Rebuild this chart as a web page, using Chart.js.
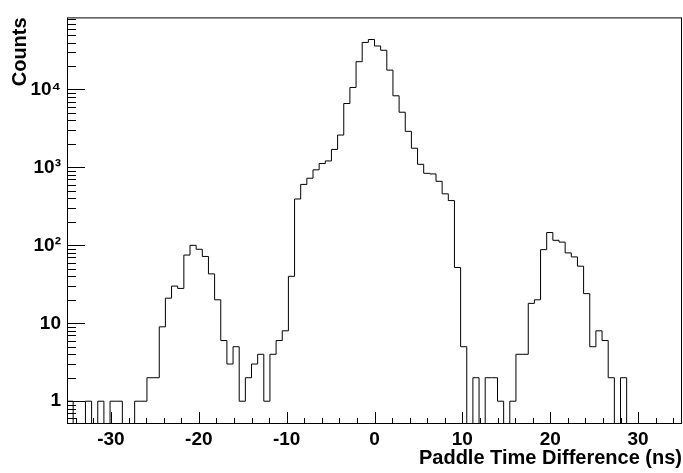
<!DOCTYPE html>
<html>
<head>
<meta charset="utf-8">
<script src="https://cdn.jsdelivr.net/npm/chart.js@4.4.0/dist/chart.umd.min.js"></script>
<style>
body { margin: 0; background: #fff; }
</style>
</head>
<body>
<canvas id="histo" width="683" height="473"></canvas>
<script>
// 100 bins of 0.7 ns from -35 to 35 ns
var xMin = -35;
var xMax = 35;
var binWidth = 0.7;
var counts = [
  1, 0, 0, 1, 0, 1, 0, 1, 1, 0,
  0, 1, 1, 2, 2, 9, 21, 30, 28, 75,
  100, 89, 72, 43, 20, 6, 3, 5, 1, 2,
  3, 4, 1, 4, 6, 8, 40, 393, 605, 726,
  930, 1120, 1210, 1700, 2600, 6600, 10600, 22700, 40100, 43700,
  36100, 31800, 17700, 8290, 5100, 2900, 1760, 1095, 839, 824,
  663, 458, 375, 52, 5, 0, 2, 0, 2, 2,
  1, 0, 1, 4, 4, 18, 20, 88, 146, 116,
  110, 80, 71, 54, 24, 5, 8, 6, 2, 0,
  2, 0, 0, 0, 0, 0, 0, 0, 0, 0
];

var yMin = 0.51;
var yMax = 84000;
var xTicks = [-30, -20, -10, 0, 10, 20, 30];
var yTicks = [1, 10, 100, 1000, 10000];
var yTickLabels = ['1', '10', '10\u00b2', '10\u00b3', '10\u2074'];

var labelFont = { family: 'Liberation Sans', size: 19, weight: 'bold' };
var titleFont = { family: 'Liberation Sans', size: 20, weight: 'bold' };

// step points at bin low edges, empty bins sit on the frame bottom
var points = [];
for (var i = 0; i < counts.length; i++) {
  points.push({ x: xMin + i * binWidth, y: Math.max(counts[i], yMin) });
}
points.push({ x: xMax, y: Math.max(counts[counts.length - 1], yMin) });

// ROOT style frame with ticks pointing inwards
var rootFrame = {
  id: 'rootFrame',
  afterDatasetsDraw: function(chart) {
    var ctx = chart.ctx;
    var a = chart.chartArea;
    var xs = chart.scales.x;
    var ys = chart.scales.y;
    ctx.save();
    ctx.strokeStyle = '#000';
    ctx.lineWidth = 1;
    ctx.beginPath();
    for (var d = -1; d <= 4; d++) {
      for (var m = 1; m <= 9; m++) {
        var v = m * Math.pow(10, d);
        if (v < yMin || v > yMax) continue;
        var py = Math.round(ys.getPixelForValue(v)) + 0.5;
        var len = m === 1 ? 18 : 9;
        ctx.moveTo(a.left, py);
        ctx.lineTo(a.left + len, py);
      }
    }
    for (var t = -34; t <= 34; t += 2) {
      var px = Math.round(xs.getPixelForValue(t)) + 0.5;
      var tl = t % 10 === 0 ? 12 : 6;
      ctx.moveTo(px, a.bottom);
      ctx.lineTo(px, a.bottom - tl);
    }
    ctx.stroke();
    ctx.strokeRect(a.left + 0.5, a.top + 0.5, a.right - a.left - 1, a.bottom - a.top - 1);
    ctx.restore();
  }
};

var ctx = document.getElementById('histo');
var chart = new Chart(ctx, {
  type: 'line',
  data: {
    datasets: [{
      label: 'Paddle time difference',
      data: points,
      stepped: 'before',
      borderColor: '#000',
      borderWidth: 1,
      pointRadius: 0,
      fill: false,
      tension: 0
    }]
  },
  options: {
    responsive: false,
    animation: false,
    layout: { padding: { top: 8, right: 1, bottom: 0, left: 0 } },
    plugins: {
      legend: { display: false },
      tooltip: { enabled: false }
    },
    scales: {
      x: {
        type: 'linear',
        min: xMin,
        max: xMax,
        afterFit: function(s) { s.height = 49; },
        afterBuildTicks: function(s) {
          s.ticks = xTicks.map(function(v) { return { value: v }; });
        },
        ticks: {
          font: labelFont,
          color: '#000',
          padding: 4,
          maxRotation: 0,
          autoSkip: false,
          callback: function(v) { return String(v); }
        },
        grid: { display: false, drawTicks: false },
        border: { display: false },
        title: {
          display: true,
          text: 'Paddle Time Difference (ns)',
          align: 'end',
          color: '#000',
          font: titleFont,
          padding: { top: 0, bottom: 3 }
        }
      },
      y: {
        type: 'logarithmic',
        min: yMin,
        max: yMax,
        afterFit: function(s) { s.width = 67; },
        afterBuildTicks: function(s) {
          s.ticks = yTicks.map(function(v) { return { value: v }; });
        },
        ticks: {
          font: labelFont,
          color: '#000',
          padding: 6,
          autoSkip: false,
          callback: function(v) { return yTickLabels[yTicks.indexOf(v)]; }
        },
        grid: { display: false, drawTicks: false },
        border: { display: false },
        title: {
          display: true,
          text: 'Counts',
          align: 'end',
          color: '#000',
          font: titleFont,
          padding: { top: 8, bottom: 0 }
        }
      }
    }
  },
  plugins: [rootFrame]
});
</script>
</body>
</html>
